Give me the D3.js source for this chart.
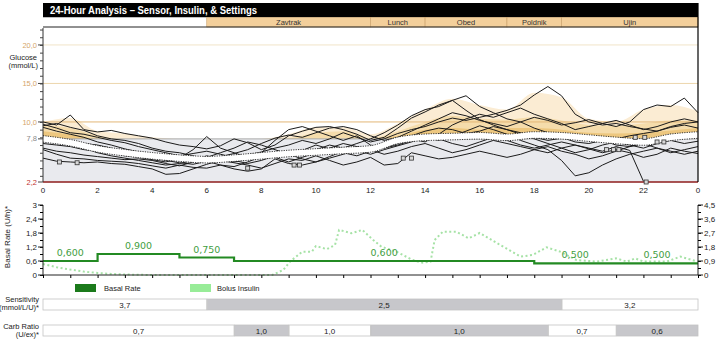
<!DOCTYPE html>
<html><head><meta charset="utf-8">
<script src="https://cdn.jsdelivr.net/npm/d3@7"></script>
<style>body{margin:0;background:#fff;} svg{display:block;font-family:"Liberation Sans",Arial,sans-serif;}</style>
</head><body><svg id="c" width="719" height="345"></svg>
<script>
// ---------- DATA ----------
const title = "24-Hour Analysis \u2013 Sensor, Insulin, & Settings";
const mealNames = ["Zavtrak","Lunch","Obed","Poldnik","Ujin"];
const mealStart = [6,12,14,17,19];
const mealEnd   = [12,14,17,19,24];

const hourTicks  = [0,2,4,6,8,10,12,14,16,18,20,22,24];
const hourLabels = ["0","2","4","6","8","10","12","14","16","18","20","22","0"];

const glucoseTicks  = [2.2,7.8,10,15,20];
const glucoseLabels = ["2,2","7,8","10,0","15,0","20,0"];

// sensor traces, one value every 30 min (0:00 ... 24:00)
const trace1 = [10.0,9.6,10.9,9.0,8.7,8.9,8.5,8.2,7.9,7.4,7.0,6.8,6.5,6.9,7.8,7.3,6.4,7.0,8.2,8.8,9.3,9.4,9.0,8.4,7.6,8.0,9.2,10.5,11.3,12.2,12.8,13.4,12.0,11.2,10.4,10.0,9.2,8.6,8.0,7.4,7.2,7.6,7.0,6.8,7.3,7.9,8.4,8.0,8.6];
const trace2 = [9.7,9.2,8.6,8.4,8.0,7.6,7.3,6.8,6.4,6.0,5.6,5.9,6.2,5.8,5.4,5.7,6.1,6.6,7.0,7.6,7.2,7.8,8.6,8.0,7.4,7.8,8.5,9.0,9.4,10.0,10.5,10.2,10.6,11.0,11.5,12.2,13.5,14.6,13.4,11.0,10.0,9.6,9.8,9.4,9.1,8.8,9.3,9.6,9.2];
const trace3 = [9.5,9.8,9.3,8.9,8.2,7.8,7.6,7.2,6.6,6.2,6.0,5.6,5.2,5.5,5.9,6.4,7.2,7.9,8.3,8.0,8.6,9.2,9.4,9.0,8.2,7.6,8.0,8.8,9.6,10.4,11.2,10.8,10.2,9.8,9.4,10.0,10.6,10.2,9.6,9.9,10.3,9.8,9.4,10.0,11.6,12.2,12.0,13.1,11.2];
const trace4 = [9.3,8.8,8.4,8.0,7.4,7.0,6.5,6.1,5.8,5.5,5.2,5.0,4.8,5.3,5.0,4.6,5.0,5.6,6.2,5.8,6.4,7.0,6.6,7.2,7.8,8.6,9.6,10.8,11.6,12.0,12.8,11.5,10.3,9.6,9.0,8.6,8.0,7.6,7.9,8.4,8.0,7.5,7.8,8.2,8.5,8.8,9.4,9.8,10.0];
const trace5 = [8.1,7.8,7.5,7.2,7.0,6.6,6.2,5.8,5.4,5.0,4.7,4.5,4.9,4.4,4.2,4.8,5.5,6.0,5.6,6.3,7.0,6.5,6.0,5.6,6.2,7.0,7.6,8.2,8.8,9.2,9.0,8.5,8.8,9.4,9.0,8.4,7.8,7.2,6.6,6.0,6.4,7.0,7.4,7.0,6.6,7.2,7.6,7.2,7.5];
const trace6 = [6.6,6.2,6.0,5.7,5.5,5.3,5.1,5.2,5.0,4.6,4.3,4.8,5.4,6.0,6.6,7.4,7.0,6.4,5.8,5.2,4.8,5.3,5.8,6.3,5.8,6.4,6.9,7.4,8.0,7.6,8.2,8.8,9.5,9.0,8.4,7.6,7.0,6.4,5.0,3.0,3.4,4.4,5.2,5.8,6.2,6.6,6.0,6.4,6.8];
const trace7 = [6.4,5.8,5.3,5.2,5.0,4.9,4.8,4.6,4.3,4.0,4.4,4.1,4.0,4.4,3.9,3.6,3.9,5.2,4.6,4.4,4.8,5.5,6.2,6.8,6.4,5.8,6.2,6.8,7.2,6.6,6.0,6.4,7.0,7.6,7.2,6.8,6.4,6.0,6.6,7.0,6.5,6.0,6.4,6.0,5.4,5.8,6.6,6.2,5.9];
const trace8 = [5.3,4.9,4.8,4.7,4.8,4.6,4.5,4.2,3.9,3.2,3.3,3.9,4.5,5.0,4.7,4.4,4.0,4.6,5.2,5.0,5.6,5.0,4.4,4.8,5.4,4.4,4.6,6.0,5.6,5.2,5.4,5.8,6.2,5.8,5.4,5.8,6.4,6.8,6.2,5.8,5.2,5.6,6.2,6.8,7.2,6.6,6.2,5.8,6.2];
const trace9 = [7.2,7.0,6.8,6.4,6.2,6.0,5.6,5.4,5.1,4.8,5.3,6.4,8.1,6.6,6.0,5.4,6.0,7.6,9.0,9.4,8.8,8.2,7.6,8.2,7.0,6.6,7.2,7.8,7.4,8.4,9.6,10.4,11.0,10.6,11.2,11.8,11.0,10.4,9.8,9.0,9.4,9.8,10.2,9.6,9.0,9.4,10.0,10.4,10.0];
const trace10 = [7.6,7.3,7.0,6.6,6.0,5.6,5.3,5.0,4.7,4.4,4.6,5.0,5.6,5.2,4.8,5.2,5.8,5.4,4.8,5.4,6.0,6.6,7.2,6.8,6.2,6.6,7.0,7.6,8.2,7.8,7.2,6.8,7.4,8.0,7.6,7.0,6.6,7.0,7.4,7.0,6.6,6.2,6.8,6.3,2.3,null,null,null,null];
const traces = [trace1,trace2,trace3,trace4,trace5,trace6,trace7,trace8,trace9,trace10];

// calibration / marker points [hour, mmol/L]
const markerHours  = [0.6,1.25,7.5,9.2,9.4,13.2,13.5,20.65,20.9,21.1,21.7,22.05,22.5,22.75,22.1];
const markerValues = [4.8,4.7,4.0,4.4,4.4,5.3,5.3,6.4,6.4,6.4,8.0,8.0,7.4,7.4,2.2];

// hourly statistics
const meanLine = [7.8,7.3,6.5,6.0,5.6,5.3,5.1,5.3,5.6,5.9,6.1,6.3,6.5,7.6,8.0,8.1,8.2,8.0,8.3,8.2,7.9,7.6,7.4,8.0,8.3];
const bandHigh = [10.0,10.5,8.8,8.5,8.0,7.6,7.8,7.8,7.7,8.4,9.3,9.3,8.4,9.8,11.6,13.0,12.2,11.6,13.8,13.2,10.4,10.0,11.6,12.2,11.4];
const bandMid  = [9.6,9.2,8.2,7.8,7.6,7.4,7.4,7.5,7.4,7.9,8.6,8.8,7.9,8.8,10.0,10.8,10.4,10.3,10.6,10.2,9.6,9.5,9.8,10.2,10.2];
const bandLow  = [8.8,8.4,7.6,7.4,7.2,7.0,7.0,7.0,7.0,7.3,7.6,7.8,7.4,8.2,9.0,9.2,9.0,9.2,9.2,9.0,8.6,8.5,8.6,8.9,9.2];

// basal
const basalStart = [0,2,5,7,18,21];
const basalRate  = [0.6,0.9,0.75,0.6,0.5,0.5];
const basalLabels = ["0,600","0,900","0,750","0,600","0,500","0,500"];
const basalTicks = [0,0.6,1.2,1.8,2.4,3];
const basalTickLabels = ["0","0,6","1,2","1,8","2,4","3"];
const bolusTicks = [0,0.9,1.8,2.7,3.6,4.5];
const bolusTickLabels = ["0","0,9","1,8","2,7","3,6","4,5"];
const bolusHours  = [0,0.5,1,1.5,2,2.5,3,4,5,6,7,8,8.4,8.8,9.05,9.5,9.85,10.0,10.4,10.7,10.85,11.3,11.7,12.1,12.4,12.95,13.55,13.9,14.2,14.35,14.65,15.15,15.6,16.0,16.75,17.5,17.95,18.45,18.95,19.55,20.3,21.0,21.4,21.7,22.0,22.85,23.35,24];
const bolusValues = [0.71,0.5,0.35,0.22,0.13,0.07,0.03,0,0,0,0,0,0,0.32,0.86,1.5,1.5,1.86,1.66,1.93,2.9,2.68,2.9,2.25,1.82,1.5,0.96,0.79,0.86,2.25,2.78,2.78,2.36,2.7,1.93,1.18,1.29,1.78,1.5,0.96,0.86,1.07,0.86,1.07,0.86,0.86,1.18,0.86];

// settings rows
const sensStart = [0,6,19];
const sensEnd   = [6,19,24];
const sensLabels = ["3,7","2,5","3,2"];
const carbStart = [0,7,9,12,18.5,21];
const carbEnd   = [7,9,12,18.5,21,24];
const carbLabels = ["0,7","1,0","1,0","1,0","0,7","0,6"];

// ---------- DRAW ----------
const svg = d3.select("#c");
const L = 43, R = 698;
const x = d3.scaleLinear().domain([0,24]).range([L,R]);
const yG = d3.scaleLinear().domain([2.2,22.2]).range([182,28]);
const yB = d3.scaleLinear().domain([0,3]).range([275,205]);
const yBol = d3.scaleLinear().domain([0,4.5]).range([275,205]);
const halfHours = traces[0].map((d,i)=>i*0.5);
const hrs = meanLine.map((d,i)=>i);

// title bar
svg.append("rect").attr("x",L).attr("y",3).attr("width",R-L).attr("height",14.5).attr("fill","#000");
svg.append("text").attr("x",50).attr("y",14.2).attr("fill","#fff").attr("font-weight","bold")
  .attr("font-size",10.5).attr("textLength",207).attr("lengthAdjust","spacingAndGlyphs").text(title);
// meal band
svg.append("rect").attr("x",L).attr("y",17.5).attr("width",R-L).attr("height",9.5).attr("fill","#fff");
mealNames.forEach((m,i)=>{
  svg.append("rect").attr("x",x(mealStart[i])).attr("y",17.5).attr("width",x(mealEnd[i])-x(mealStart[i])).attr("height",9.5)
    .attr("fill","#f3cf9b").attr("stroke","#c9a06a").attr("stroke-width",0.6);
  svg.append("text").attr("x",(x(mealStart[i])+x(mealEnd[i]))/2).attr("y",25).attr("text-anchor","middle")
    .attr("font-size",7.5).attr("fill","#333").text(m);
});
svg.append("line").attr("x1",L).attr("x2",R).attr("y1",27).attr("y2",27).attr("stroke","#222").attr("stroke-width",1);

// gray fill 2.2 - 7.8 (up to mean when above)
svg.append("path").datum(hrs).attr("fill","#e9eaee")
  .attr("d",d3.area().x(h=>x(h)).y0(yG(2.2)).y1(h=>yG(Math.max(7.8,meanLine[h]))).curve(d3.curveMonotoneX));
// tan bands
[[bandHigh,"#fbecd3"],[bandMid,"#f5dcab"],[bandLow,"#edc77f"]].forEach(([arr,col])=>{
  svg.append("path").datum(hrs).attr("fill",col)
    .attr("d",d3.area().x(h=>x(h)).y0(h=>yG(Math.max(7.8,meanLine[h])))
      .y1(h=>yG(Math.max(arr[h],7.8,meanLine[h]))).curve(d3.curveMonotoneX));
});
// gridlines
const gridCol = {20:"#f1e4c8",15:"#ecd6ad",10:"#e2b777",7.8:"#a8a8a8",2.2:"#8e1c1c"};
glucoseTicks.forEach(v=>{
  svg.append("line").attr("x1",L).attr("x2",R).attr("y1",yG(v)).attr("y2",yG(v))
    .attr("stroke",gridCol[v]).attr("stroke-width",v===2.2?1.6:1);
});
// traces
const tl = d3.line().defined(d=>d[1]!==null).x(d=>x(d[0])).y(d=>yG(d[1]));
traces.forEach(t=>{
  svg.append("path").datum(t.map((v,i)=>[halfHours[i],v])).attr("fill","none")
    .attr("stroke","#1b1b1b").attr("stroke-width",1).attr("d",tl);
});
// mean band
const ml = d3.line().x(h=>x(h)).y(h=>yG(meanLine[h])).curve(d3.curveMonotoneX);
svg.append("path").datum(hrs).attr("fill","none").attr("stroke","#fff").attr("stroke-width",6.5).attr("d",ml);
[-3.3,3.3].forEach(o=>{
  svg.append("path").datum(hrs).attr("fill","none").attr("stroke","#222").attr("stroke-width",0.9)
    .attr("stroke-dasharray","1.2,1.2").attr("transform",`translate(0,${o})`).attr("d",ml);
});
// markers
markerHours.forEach((h,i)=>{
  svg.append("rect").attr("x",x(h)-2).attr("y",yG(markerValues[i])-2).attr("width",4).attr("height",4)
    .attr("fill","#d8d8d8").attr("stroke","#333").attr("stroke-width",0.8);
});
// right border
svg.append("line").attr("x1",R).attr("x2",R).attr("y1",3).attr("y2",182).attr("stroke","#000").attr("stroke-width",1.2);

// glucose y axis
const gAxis = d3.axisLeft(yG).tickValues(d3.range(3,23,1)).tickSize(3).tickFormat("");
svg.append("g").attr("transform",`translate(${L},0)`).call(gAxis)
  .call(g=>g.select(".domain").attr("d",`M0,28V182`).attr("stroke","#333"))
  .call(g=>g.selectAll(".tick line").attr("stroke","#444"));
const labCol = {20:"#d4a56a",15:"#d4a56a",10:"#d4a56a",7.8:"#8a8a8a",2.2:"#c03030"};
glucoseTicks.forEach((v,i)=>{
  svg.append("line").attr("x1",L-5).attr("x2",L).attr("y1",yG(v)).attr("y2",yG(v)).attr("stroke","#444");
  svg.append("text").attr("x",L-6).attr("y",yG(v)+2.6).attr("text-anchor","end").attr("font-size",7.5)
    .attr("fill",labCol[v]).text(glucoseLabels[i]);
});
svg.append("text").attr("x",37).attr("y",60).attr("text-anchor","end").attr("font-size",7.5).attr("fill","#222").text("Glucose");
svg.append("text").attr("x",38).attr("y",68).attr("text-anchor","end").attr("font-size",7.5).attr("fill","#222").text("(mmol/L)");
// hour labels
hourTicks.forEach((h,i)=>{
  svg.append("text").attr("x",x(h)).attr("y",193).attr("text-anchor","middle").attr("font-size",8)
    .attr("fill","#222").text(hourLabels[i]);
});

// ---------- basal chart ----------
svg.append("path").datum(bolusHours.map((h,i)=>[h,bolusValues[i]])).attr("fill","none")
  .attr("stroke","#a6e2a6").attr("stroke-width",2).attr("stroke-dasharray","2,2.5")
  .attr("d",d3.line().x(d=>x(d[0])).y(d=>yBol(d[1])));
const steps = [];
basalStart.forEach((s,i)=>{
  const e = i<basalStart.length-1?basalStart[i+1]:24;
  steps.push([s,basalRate[i]],[e,basalRate[i]]);
});
svg.append("path").datum(steps).attr("fill","none").attr("stroke","#238a23").attr("stroke-width",2.2)
  .attr("d",d3.line().x(d=>x(d[0])).y(d=>yB(d[1])));
basalStart.forEach((s,i)=>{
  const e = i<basalStart.length-1?basalStart[i+1]:24;
  svg.append("text").attr("x",x((s+e)/2)).attr("y",yB(basalRate[i])-5).attr("text-anchor","middle")
    .attr("font-size",9.5).attr("font-family","DejaVu Sans").attr("fill","#3f9e3f").text(basalLabels[i]);
});
const bL = d3.axisLeft(yB).tickValues(d3.range(0,3.01,0.3)).tickSize(3).tickFormat("");
svg.append("g").attr("transform",`translate(${L},0)`).call(bL)
  .call(g=>g.select(".domain").attr("d","M0,205V275").attr("stroke","#222"));
basalTicks.forEach((v,i)=>{
  svg.append("line").attr("x1",L-5).attr("x2",L).attr("y1",yB(v)).attr("y2",yB(v)).attr("stroke","#222");
  svg.append("text").attr("x",L-6).attr("y",yB(v)+2.8).attr("text-anchor","end").attr("font-size",8)
    .attr("fill","#222").text(basalTickLabels[i]);
});
const bR = d3.axisRight(yBol).tickValues(d3.range(0,4.51,0.45)).tickSize(3).tickFormat("");
svg.append("g").attr("transform",`translate(${R},0)`).call(bR)
  .call(g=>g.select(".domain").attr("d","M0,205V275").attr("stroke","#222"));
bolusTicks.forEach((v,i)=>{
  svg.append("line").attr("x1",R).attr("x2",R+5).attr("y1",yBol(v)).attr("y2",yBol(v)).attr("stroke","#222");
  svg.append("text").attr("x",R+6).attr("y",yBol(v)+2.8).attr("font-size",8)
    .attr("fill","#222").text(bolusTickLabels[i]);
});
const bx = d3.axisBottom(x).tickValues(d3.range(0,24.01,1)).tickSize(3).tickFormat("");
svg.append("g").attr("transform","translate(0,275)").call(bx)
  .call(g=>g.select(".domain").attr("d",`M${L},0H${R}`).attr("stroke","#222"));
svg.append("text").attr("transform","translate(10,237) rotate(-90)").attr("text-anchor","middle")
  .attr("font-size",8).attr("fill","#222").text("Basal Rate (U/h)*");

// legend
svg.append("rect").attr("x",75).attr("y",284).attr("width",21).attr("height",8).attr("fill","#1b7a1b");
svg.append("text").attr("x",104).attr("y",291).attr("font-size",7.5).attr("fill","#222").text("Basal Rate");
svg.append("rect").attr("x",190).attr("y",284).attr("width",21).attr("height",8).attr("fill","#98ec98");
svg.append("text").attr("x",217).attr("y",291).attr("font-size",7.5).attr("fill","#222").text("Bolus Insulin");

// settings rows
function row(starts, ends, labels, y0, h, ty){
  starts.forEach((s,i)=>{
    const shaded = i%2===1;
    svg.append("rect").attr("x",x(s)+(i>0?0.5:0)).attr("y",y0).attr("width",x(ends[i])-x(s)-(i>0?0.5:0)).attr("height",h)
      .attr("fill",shaded?"#c7c7cb":"#fff").attr("stroke","#c4c4c4").attr("stroke-width",0.8);
    svg.append("text").attr("x",(x(s)+x(ends[i]))/2).attr("y",ty).attr("text-anchor","middle")
      .attr("font-size",8).attr("fill","#222").text(labels[i]);
  });
}
row(sensStart,sensEnd,sensLabels,299,11,307.5);
row(carbStart,carbEnd,carbLabels,325,11,333.5);
svg.append("text").attr("x",39).attr("y",302).attr("text-anchor","end").attr("font-size",7.5).attr("fill","#222").text("Sensitivity");
svg.append("text").attr("x",39).attr("y",310).attr("text-anchor","end").attr("font-size",7.5).attr("fill","#222").text("(mmol/L/U)*");
svg.append("text").attr("x",39).attr("y",329).attr("text-anchor","end").attr("font-size",7.5).attr("fill","#222").text("Carb Ratio");
svg.append("text").attr("x",39).attr("y",337).attr("text-anchor","end").attr("font-size",7.5).attr("fill","#222").text("(U/ex)*");
</script></body></html>
